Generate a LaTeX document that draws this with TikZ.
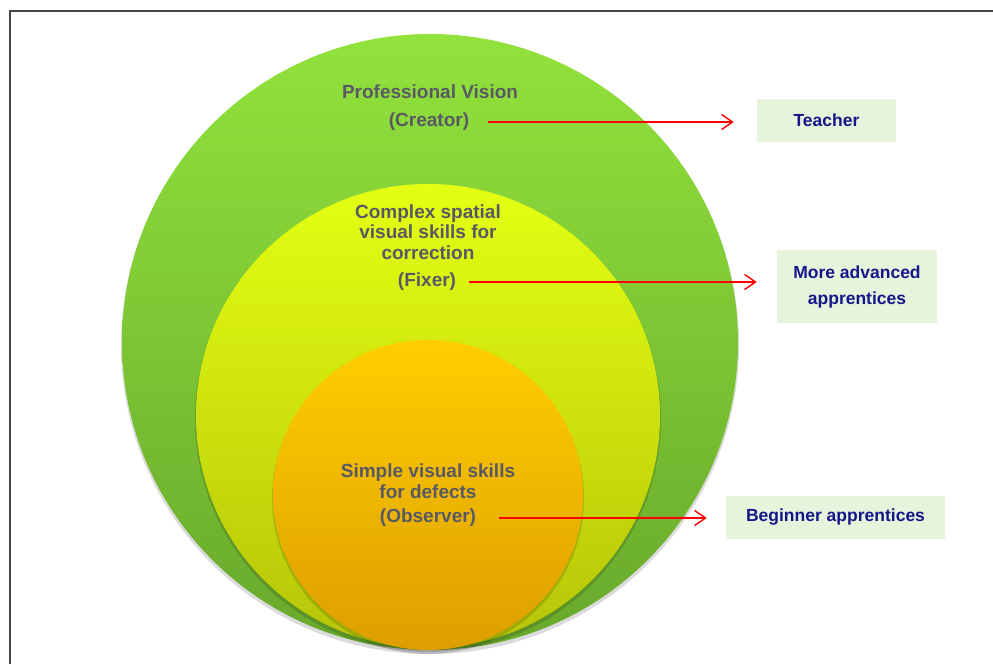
\documentclass[tikz,border=0pt]{standalone}
\usepackage{fontspec}
\setmainfont{Liberation Sans}
\usetikzlibrary{arrows.meta}

\definecolor{greentop}{RGB}{146,226,60}
\definecolor{greenbottom}{RGB}{104,168,44}
\definecolor{yellowtop}{RGB}{228,255,18}
\definecolor{yellowbottom}{RGB}{182,196,8}
\definecolor{orangetop}{RGB}{255,206,0}
\definecolor{orangebottom}{RGB}{222,158,0}
\definecolor{textgray}{RGB}{89,89,100}
\definecolor{rolenavy}{RGB}{22,22,138}
\definecolor{boxgreen}{RGB}{230,244,220}
\definecolor{framegray}{RGB}{70,70,70}

\begin{document}
\begin{tikzpicture}[x=1pt, y=-1pt,
    castshadow/.style={fill=black, opacity=0.14, draw=none},
    level/.style={text=textgray, font=\bfseries\fontsize{19}{20.5}\selectfont,
        align=center, inner sep=0pt},
    role/.style={fill=boxgreen, text=rolenavy, align=center, inner sep=0pt,
        font=\bfseries\fontsize{17.5}{26}\selectfont},
    link/.style={draw=red, line width=1.4pt,
        -{Straight Barb[length=11pt, width=15pt]}}]
    \useasboundingbox (0, 0) rectangle (993, 664);

    % frame
    \draw [line width=1.5pt, framegray] (10, 664) -- (10, 11) -- (993, 11);

    % nested circles
    \fill [castshadow] (430, 345) circle [radius=309pt];
    \shade [top color=greentop, bottom color=greenbottom]
        (430, 342) circle [radius=308pt];
    \fill [castshadow] (428, 419) circle [radius=233pt];
    \shade [top color=yellowtop, bottom color=yellowbottom]
        (428, 416) circle [radius=232pt];
    \fill [castshadow] (428, 498) circle [radius=156pt];
    \shade [top color=orangetop, bottom color=orangebottom]
        (428, 495) circle [radius=155pt];

    % levels
    \node [level] (vision)   at (430, 92)  {Professional Vision};
    \node [level] (creator)  at (429, 122) {(Creator)};
    \node [level] (complex)  at (428, 232) {Complex spatial\\visual skills for\\correction};
    \node [level] (fixer)    at (427, 282) {(Fixer)};
    \node [level] (simple)   at (428, 481) {Simple visual skills\\for defects};
    \node [level] (observer) at (428, 518) {(Observer)};

    % roles
    \node [role, minimum width=139pt, minimum height=43pt] (teacher)
        at (826.5, 120.5) {Teacher};
    \node [role, minimum width=160pt, minimum height=73pt] (advanced)
        at (857, 286.5) {More advanced\\apprentices};
    \node [role, minimum width=219pt, minimum height=43pt] (beginner)
        at (835.5, 517.5) {Beginner apprentices};

    \draw [link, shorten <=19pt, shorten >=23pt]
        (creator.east) -- (creator.east -| teacher.west);
    \draw [link, shorten <=13pt, shorten >=20pt]
        (fixer.east) -- (fixer.east -| advanced.west);
    \draw [link, shorten <=23pt, shorten >=19pt]
        (observer.east) -- (observer.east -| beginner.west);
\end{tikzpicture}
\end{document}
